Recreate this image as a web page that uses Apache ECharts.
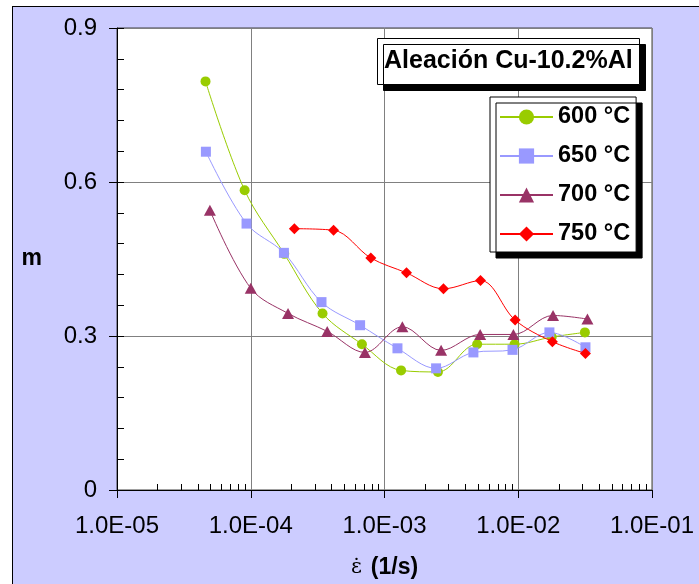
<!DOCTYPE html>
<html>
<head>
<meta charset="utf-8">
<script src="https://cdn.jsdelivr.net/npm/echarts@6/dist/echarts.min.js"></script>
<style>
  html, body { margin: 0; padding: 0; background: #fff; }
  #frame { position: absolute; left: 12px; top: 6px; right: 0; bottom: 0;
           background: #CCCCFF; border-left: 1px solid #000; border-top: 1px solid #000; }
  #chart { position: absolute; left: 0; top: 0; width: 699px; height: 584px; }
</style>
</head>
<body>
<div id="frame"></div>
<div id="chart"></div>
<script>
// Strain-rate sensitivity m versus strain rate for the Cu-10.2%Al alloy
const seriesNames = ['600 °C', '650 °C', '700 °C', '750 °C'];

const rate600 = [4.59e-5, 9.0e-5, 1.78e-4, 3.44e-4, 6.78e-4, 1.33e-3, 2.51e-3, 4.93e-3, 9.38e-3, 1.78e-2, 3.15e-2];
const m600    = [0.796, 0.584, 0.460, 0.344, 0.284, 0.233, 0.230, 0.284, 0.284, 0.298, 0.307];

const rate650 = [4.62e-5, 9.3e-5, 1.77e-4, 3.38e-4, 6.57e-4, 1.25e-3, 2.43e-3, 4.62e-3, 9.06e-3, 1.71e-2, 3.18e-2];
const m650    = [0.659, 0.519, 0.462, 0.366, 0.321, 0.276, 0.237, 0.268, 0.273, 0.307, 0.278];

const rate700 = [4.95e-5, 1.0e-4, 1.9e-4, 3.73e-4, 7.14e-4, 1.36e-3, 2.65e-3, 5.19e-3, 9.2e-3, 1.82e-2, 3.29e-2];
const m700    = [0.545, 0.393, 0.344, 0.309, 0.268, 0.318, 0.272, 0.303, 0.303, 0.340, 0.333];

const rate750 = [2.12e-4, 4.16e-4, 7.9e-4, 1.46e-3, 2.76e-3, 5.22e-3, 9.48e-3, 1.80e-2, 3.18e-2];
const m750    = [0.509, 0.506, 0.452, 0.423, 0.392, 0.408, 0.331, 0.289, 0.266];

// Axis ticks
const xDecades = [1e-5, 1e-4, 1e-3, 1e-2, 1e-1];
const xTickLabels = ['1.0E-05', '1.0E-04', '1.0E-03', '1.0E-02', '1.0E-01'];
const yTickLabels = ['0', '0.3', '0.6', '0.9'];

// Minor log ticks: 2..9 inside each decade
const xMinorTicks = [];
for (let i = 0; i < xDecades.length - 1; i++) {
  for (let k = 2; k <= 9; k++) xMinorTicks.push(k * xDecades[i]);
}

const FONT = 'Liberation Sans';
const colors = ['#99CC00', '#9999FF', '#993366', '#FF0000'];
const symbols = ['circle', 'rect', 'triangle', 'diamond'];
const symbolSizes = [10, 10, [12, 11], [11, 11]];
const rates = [rate600, rate650, rate700, rate750];
const ms = [m600, m650, m700, m750];

const pair = (xs, ys) => xs.map((x, i) => [x, ys[i]]);

const lineSeries = seriesNames.map((name, i) => ({
  name: name,
  type: 'line',
  data: pair(rates[i], ms[i]),
  smooth: 0.35,
  symbol: symbols[i],
  symbolSize: symbolSizes[i],
  showAllSymbol: true,
  itemStyle: { color: colors[i] },
  lineStyle: { color: colors[i], width: 1 },
  emphasis: { disabled: true },
  z: 3 + i
}));

const chart = echarts.init(document.getElementById('chart'), null, { renderer: 'canvas' });

chart.setOption({
  animation: false,
  backgroundColor: 'transparent',
  title: {
    text: 'Aleación Cu-10.2%Al',
    left: 377, top: 38,
    padding: [11, 7, 11, 7],
    backgroundColor: '#fff',
    borderColor: '#000', borderWidth: 1,
    shadowColor: '#000', shadowBlur: 0, shadowOffsetX: 6, shadowOffsetY: 6,
    textStyle: { fontFamily: FONT, fontWeight: 'bold', fontSize: 25, color: '#000' }
  },
  legend: {
    data: seriesNames,
    orient: 'vertical',
    left: 490, top: 97,
    itemWidth: 53, itemHeight: 19, itemGap: 13,
    padding: [7, 6, 5, 9],
    backgroundColor: '#fff',
    borderColor: '#000', borderWidth: 1,
    shadowColor: '#000', shadowBlur: 0, shadowOffsetX: 6, shadowOffsetY: 6,
    selectedMode: false,
    textStyle: { fontFamily: FONT, fontWeight: 'bold', fontSize: 23.5, lineHeight: 26, color: '#000' }
  },
  grid: {
    left: 117, top: 28, right: 47, bottom: 93,
    show: true, backgroundColor: '#fff',
    borderColor: '#404040', borderWidth: 1
  },
  xAxis: [{
    type: 'log', logBase: 10, min: 1e-5, max: 1e-1,
    name: '{e|ε̇}{b|(1/s)}',
    nameLocation: 'middle', nameGap: 66,
    nameTextStyle: {
      rich: {
        e: { fontFamily: 'DejaVu Serif', fontSize: 21, color: '#000', padding: [0, 9, 0, 0] },
        b: { fontFamily: FONT, fontWeight: 'bold', fontSize: 23, color: '#000' }
      }
    },
    axisLine: { lineStyle: { color: '#000', width: 1 } },
    axisTick: { length: 8, lineStyle: { color: '#000' } },
    axisLabel: {
      margin: 24, fontFamily: FONT, fontSize: 24, color: '#000',
      formatter: v => xTickLabels[Math.round(Math.log10(v)) + 5]
    },
    splitLine: { show: true, lineStyle: { color: '#808080', width: 1 } }
  }],
  yAxis: [{
    type: 'value', min: 0, max: 0.9, interval: 0.3, position: 'left',
    name: 'm', nameLocation: 'middle', nameRotate: 0, nameGap: 75,
    nameTextStyle: { fontFamily: FONT, fontWeight: 'bold', fontSize: 23, color: '#000' },
    axisLine: { show: true, lineStyle: { color: '#000', width: 1 } },
    axisTick: { show: true, length: 8, lineStyle: { color: '#000' } },
    axisLabel: {
      margin: 20, fontFamily: FONT, fontSize: 24, color: '#000',
      formatter: v => yTickLabels[Math.round(v / 0.3)]
    },
    splitLine: { show: true, lineStyle: { color: '#808080', width: 1 } }
  }, {
    // inward minor ticks on the m axis
    type: 'value', min: 0, max: 0.9, interval: 0.06, position: 'left',
    axisLine: { show: false },
    axisTick: { show: true, inside: true, length: 7, lineStyle: { color: '#000' } },
    axisLabel: { show: false },
    splitLine: { show: false }
  }],
  series: [{
    // inward minor ticks on the log strain-rate axis
    type: 'custom',
    silent: true,
    clip: false,
    xAxisIndex: 0, yAxisIndex: 0,
    data: xMinorTicks.map(v => [v, 0]),
    z: 2,
    renderItem: (params, api) => {
      const p = api.coord([api.value(0), 0]);
      const x = Math.round(p[0]) + 0.5;
      return {
        type: 'line',
        shape: { x1: x, y1: p[1], x2: x, y2: p[1] - 6 },
        style: { stroke: '#000', lineWidth: 1 }
      };
    }
  }].concat(lineSeries)
});
</script>
</body>
</html>
